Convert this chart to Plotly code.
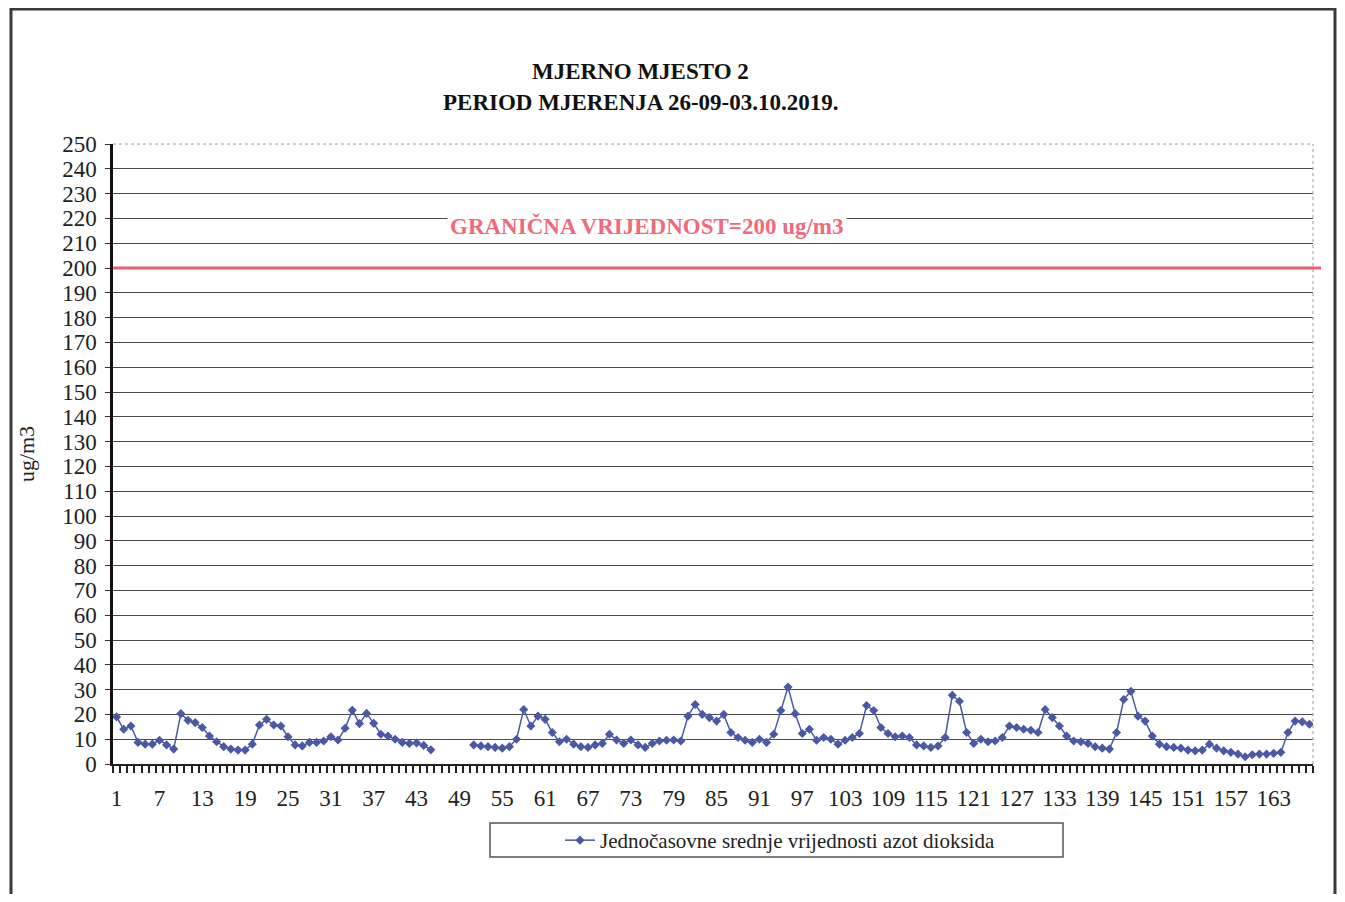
import plotly.graph_objects as go

# Hourly index (1..168) and NO2 one-hour mean values (ug/m3); None = missing
hours = list(range(1, 169))
no2 = [
    19, 14, 15.3, 8.7, 8, 8, 9.6, 7.7, 6, 20.3, 17.6, 16.7, 14.7, 11.3, 9,
    7, 6, 5.6, 5.6, 8, 15.7, 18, 15.7, 15.3, 11, 7.7, 7.3, 8.7, 8.7, 9.3,
    11, 9.7, 14.4, 21.7, 16.3, 20.4, 16.4, 12, 11.3, 10, 8.7, 8.3, 8.5, 7.5, 5.7,
    None, None, None, None, None,
    7.7, 7.3, 7, 6.7, 6.4, 7, 10, 22, 15.3, 19.3, 18, 12.7, 9, 10, 8, 7, 6.7,
    7.7, 8.3, 12, 9.7, 8.3, 9.7, 7.7, 6.7, 8.3, 9.3, 9.6, 9.7, 9.3, 19.3, 24, 20,
    18.7, 17.3, 20, 12.7, 10.7, 9.6, 8.7, 10, 8.7, 12, 21.6, 31, 20.3, 12.3, 14,
    9.6, 10.7, 10, 8, 9.6, 10.7, 12.3, 23.6, 21.6, 14.7, 12.3, 11, 11.3, 10.7,
    7.7, 7.3, 6.7, 7.3, 10.7, 27.7, 25.3, 12.7, 8.3, 10, 9, 9.3, 10.7, 15.3,
    14.7, 14, 13.6, 12.7, 22, 18.7, 15.3, 11.3, 9.3, 9, 8.3, 7, 6.4, 6, 12.7,
    26, 29.3, 19.3, 17.3, 11.3, 8, 7, 6.7, 6.4, 5.6, 5.3, 5.6, 8, 6.4, 5.3,
    4.7, 4, 2.9, 3.7, 4, 4, 4.3, 4.7, 12.7, 17.3, 17, 16,
]
x_ticks = list(range(1, 168, 6))
limit_value = 200
series_name = "Jednočasovne srednje vrijednosti azot dioksida"
limit_label = "GRANIČNA VRIJEDNOST=200 ug/m3"
title_lines = ["MJERNO MJESTO 2", "PERIOD MJERENJA 26-09-03.10.2019."]

SERIF = "Liberation Serif, Times New Roman, serif"
OFF = 8  # page body margin
W, H = 1345 - 2 * OFF, 902 - 2 * OFF
# plot area in screen coordinates
L, R, T, B = 113, 1313, 144, 764

def px(xs):
    return (xs - L) / (R - L)

def py(ys):
    return (B - ys) / (B - T)

fig = go.Figure()
fig.add_trace(go.Scatter(
    x=hours, y=no2, mode="lines+markers", name=series_name,
    line=dict(color="#4a58a6", width=1.5),
    marker=dict(symbol="diamond", size=7, color="#4a58a6"),
    connectgaps=False,
))

shapes = [
    # outer frame
    dict(type="rect", xref="paper", yref="paper", x0=px(11), x1=px(1335),
         y0=py(940), y1=py(9), line=dict(color="#3a3a3a", width=3), layer="below"),
    # top & right plot border (light dotted)
    dict(type="line", xref="paper", yref="paper", x0=0, x1=1, y0=1, y1=1,
         line=dict(color="#9a9a9a", width=1, dash="dot")),
    dict(type="line", xref="paper", yref="paper", x0=1, x1=1, y0=0, y1=1,
         line=dict(color="#9a9a9a", width=1, dash="dot")),
    # limit line
    dict(type="line", xref="paper", yref="y", x0=0, x1=px(1321),
         y0=limit_value, y1=limit_value, line=dict(color="#ec5f70", width=3)),
    # legend box
    dict(type="rect", xref="paper", yref="paper", x0=px(490), x1=px(1063),
         y0=py(857), y1=py(823), line=dict(color="#555555", width=1.5)),
]

annotations = [
    dict(xref="paper", yref="paper", x=px(640), y=py(71), xanchor="center", yanchor="middle",
         text="<b>" + title_lines[0] + "</b>", showarrow=False,
         font=dict(family=SERIF, size=23, color="#111111")),
    dict(xref="paper", yref="paper", x=px(640), y=py(102), xanchor="center", yanchor="middle",
         text="<b>" + title_lines[1] + "</b>", showarrow=False,
         font=dict(family=SERIF, size=23, color="#111111")),
    dict(xref="paper", yref="y", x=px(647), y=217, xanchor="center", yanchor="middle",
         text="<b>" + limit_label + "</b>", showarrow=False, bgcolor="white", borderpad=2,
         font=dict(family=SERIF, size=23, color="#f06a7a")),
]

fig.update_layout(
    width=W, height=H,
    margin=dict(l=L - OFF, r=W - (R - OFF), t=T - OFF, b=H - (B - OFF)),
    paper_bgcolor="white", plot_bgcolor="white",
    font=dict(family=SERIF, size=22, color="#222222"),
    shapes=shapes, annotations=annotations,
    showlegend=True,
    legend=dict(orientation="h", x=px(560), xanchor="left", y=py(820), yanchor="top",
                bgcolor="rgba(0,0,0,0)", borderwidth=0,
                font=dict(family=SERIF, size=21, color="#222222")),
)
fig.update_xaxes(
    range=[0.5, 168.5], tickmode="array", tickvals=x_ticks,
    ticktext=[str(v) for v in x_ticks], ticks="", showgrid=False,
    showline=True, linecolor="#222222", linewidth=2, ticklabelstandoff=12,
    tickfont=dict(family=SERIF, size=23, color="#222222"), zeroline=False,
    minor=dict(tick0=0.5, dtick=1, ticks="outside", ticklen=7, tickcolor="#222222",
               tickwidth=2, showgrid=False),
)
fig.update_yaxes(
    range=[0, 250], dtick=10, tick0=0, showgrid=True, gridcolor="#4a4a4a", gridwidth=1.3,
    showline=True, linecolor="#111111", linewidth=2.5, ticks="outside", ticklen=5,
    tickcolor="#333333", zeroline=False, ticklabelstandoff=4,
    tickfont=dict(family=SERIF, size=23, color="#222222"),
    title=dict(text="ug/m3", font=dict(family=SERIF, size=22, color="#222222"), standoff=22),
)

fig.write_html("out.html")
